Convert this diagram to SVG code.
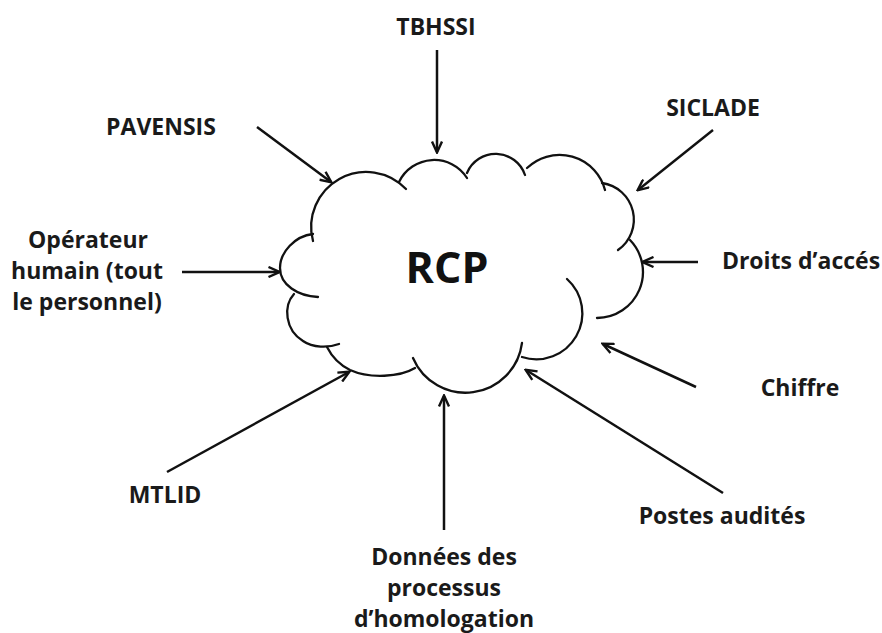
<svg xmlns="http://www.w3.org/2000/svg" width="882" height="633" viewBox="0 0 882 633">
<style>
.lbl{font-family:"Open Sans","Liberation Sans",sans-serif;font-weight:bold;font-size:23px;fill:#1a1a1a;text-anchor:middle}
.big{font-family:"Open Sans","Liberation Sans",sans-serif;font-weight:bold;font-size:43px;fill:#111;text-anchor:middle}
.cl{fill:none;stroke:#111;stroke-width:2.3;stroke-linecap:round}
.ar{fill:none;stroke:#111;stroke-width:2.5;marker-end:url(#ah)}
</style>
<defs>
<marker id="ah" markerUnits="userSpaceOnUse" viewBox="0 0 14 12" refX="12" refY="6" markerWidth="14" markerHeight="12" orient="auto">
<path d="M1.5,1 L12.5,6 L1.5,11" fill="none" stroke="#111" stroke-width="2.4" stroke-linejoin="miter"/>
</marker>
</defs>
<rect width="882" height="633" fill="#fff"/>
<g id="cloud-RCP">
<path class="cl" d="M313,241 A55,55 0 0 1 406,189"/>
<path class="cl" d="M399,182 A39,39 0 0 1 467,178"/>
<path class="cl" d="M467,173 A31,31 0 0 1 525,175"/>
<path class="cl" d="M527,168 A47,47 0 0 1 605,190"/>
<path class="cl" d="M602,183 A37,37 0 0 1 618,250"/>
<path class="cl" d="M630,240 A46,46 0 0 1 597,318"/>
<path class="cl" d="M567,279 A46,46 0 0 1 522,357"/>
<path class="cl" d="M522,343 A57,57 0 0 1 413,358"/>
<path class="cl" d="M415,368 C400,377 370,379 350,370 C340,365 332,357 327,347"/>
<path class="cl" d="M294,294 C283,306 285,330 303,341 C313,348 328,348 339,344"/>
<path class="cl" d="M313,234 C295,236 280,252 280,268 C280,285 298,296 318,297"/>
<text class="big" x="447" y="283">RCP</text>
</g>
<g id="connectors">
<line class="ar" x1="437" y1="50" x2="437" y2="152"/>
<line class="ar" x1="257" y1="127" x2="331" y2="182"/>
<line class="ar" x1="182" y1="272" x2="279" y2="272"/>
<line class="ar" x1="713" y1="130" x2="638" y2="190"/>
<line class="ar" x1="698" y1="262" x2="643" y2="262"/>
<line class="ar" x1="696" y1="387" x2="603" y2="344"/>
<line class="ar" x1="723" y1="493" x2="526" y2="370"/>
<line class="ar" x1="444" y1="530" x2="444" y2="396"/>
<line class="ar" x1="167" y1="472" x2="349" y2="372"/>
</g>
<g id="n-tbhssi"><text class="lbl" x="436" y="35">TBHSSI</text></g>
<g id="n-pavensis"><text class="lbl" x="161" y="135">PAVENSIS</text></g>
<g id="n-siclade"><text class="lbl" x="713" y="116">SICLADE</text></g>
<g id="n-operateur"><text class="lbl" x="88" y="248">Opérateur</text><text class="lbl" x="87" y="279">humain (tout</text><text class="lbl" x="87" y="310">le personnel)</text></g>
<g id="n-droits"><text class="lbl" x="801" y="269">Droits d’accés</text></g>
<g id="n-chiffre"><text class="lbl" x="800" y="396">Chiffre</text></g>
<g id="n-postes"><text class="lbl" x="722" y="524">Postes audités</text></g>
<g id="n-mtlid"><text class="lbl" x="165" y="503">MTLID</text></g>
<g id="n-donnees"><text class="lbl" x="444" y="565">Données des</text><text class="lbl" x="444" y="596">processus</text><text class="lbl" x="444" y="627">d’homologation</text></g>
</svg>
